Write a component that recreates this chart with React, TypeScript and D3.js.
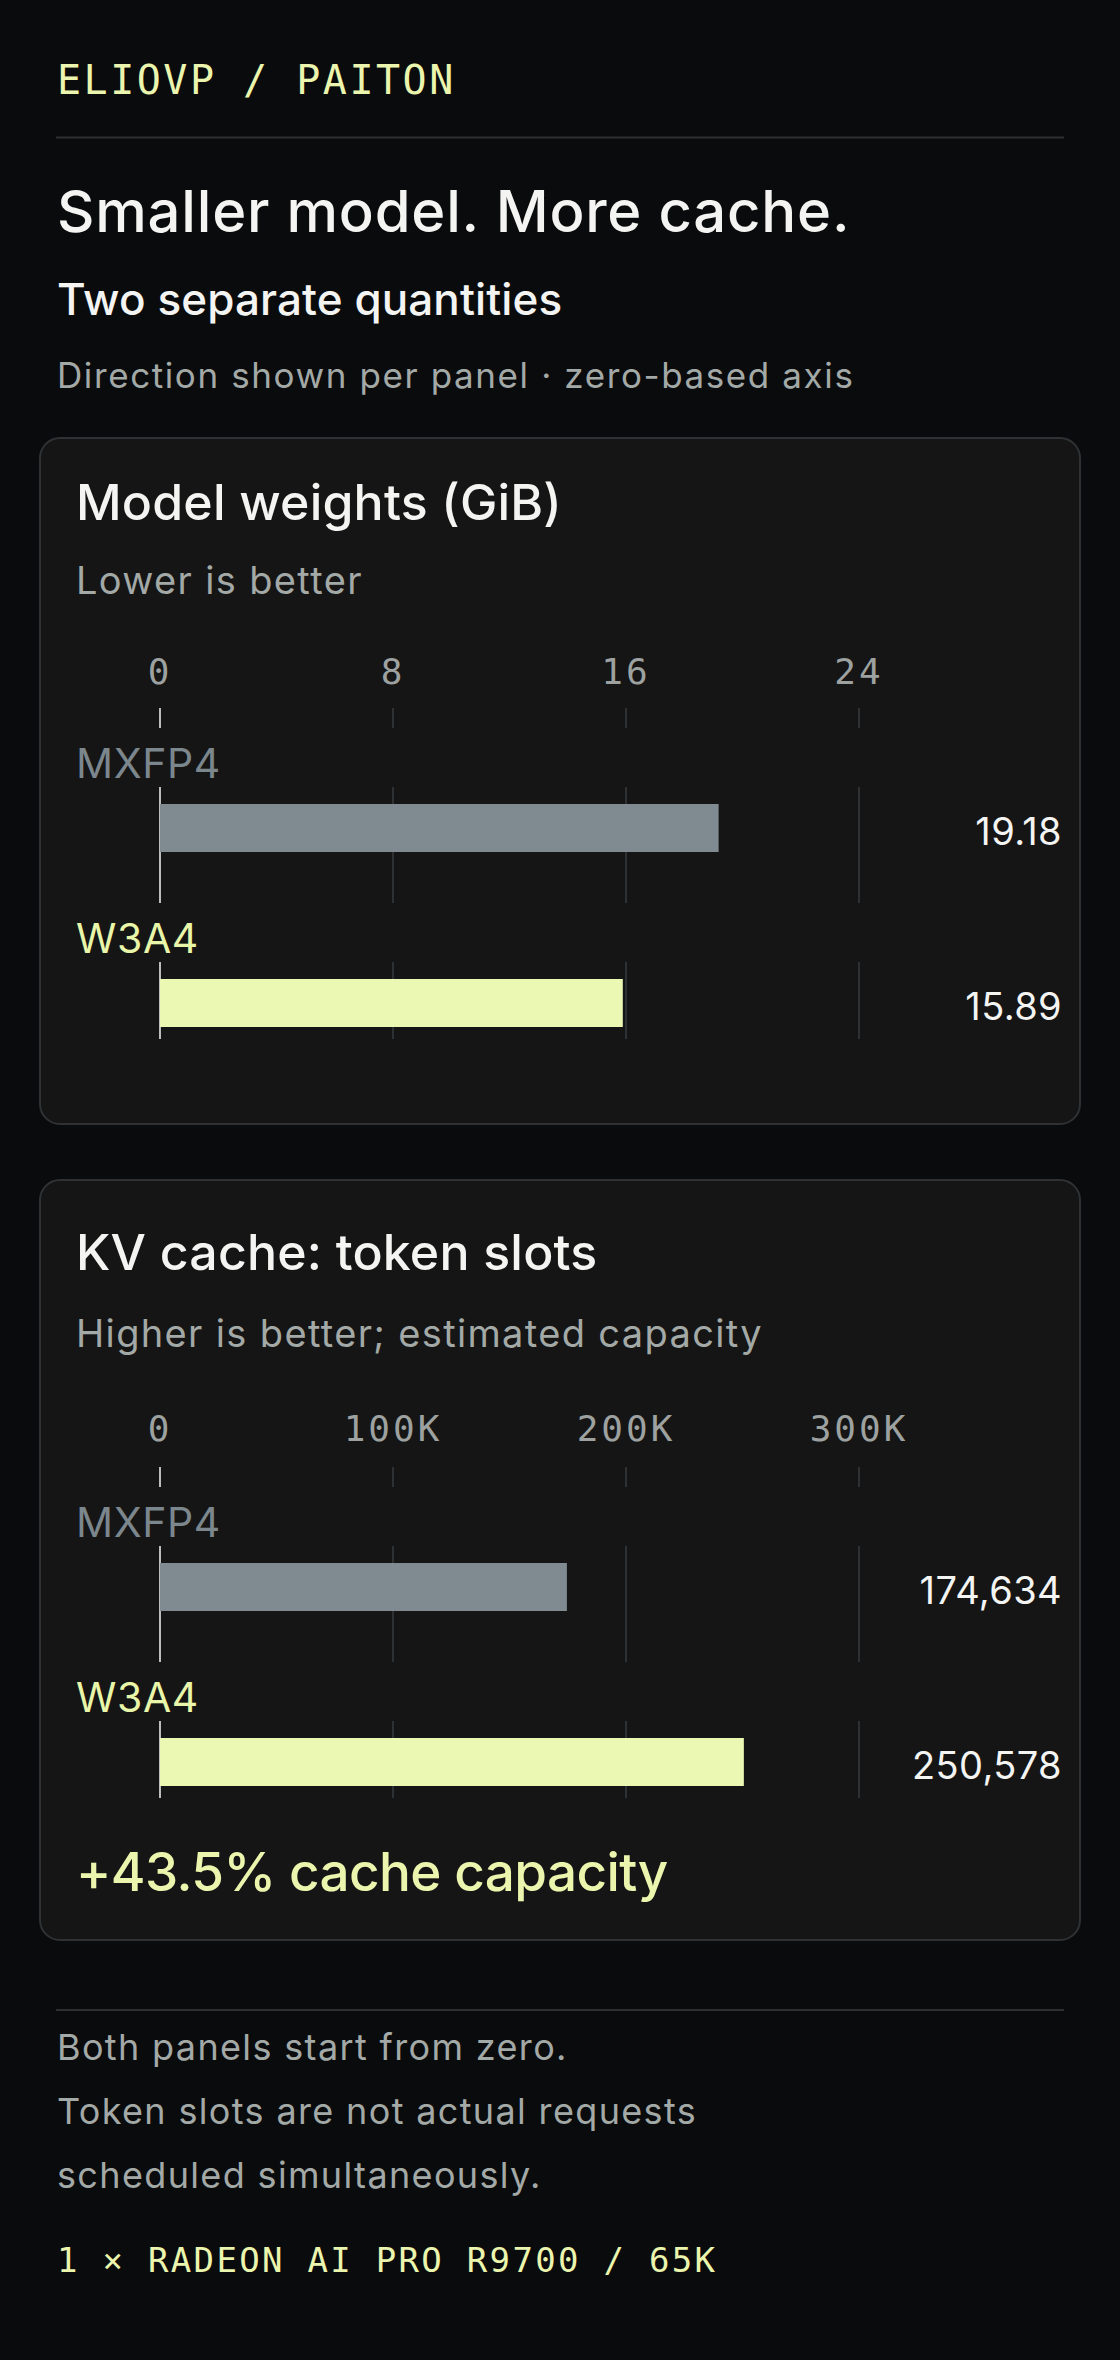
import { useEffect } from 'react';
import { scaleLinear, scaleBand, format } from 'd3';

// data
const categories = ['MXFP4', 'W3A4'];
const weightValues = [19.18, 15.89];
const weightTicks = [0, 8, 16, 24];
const kvValues = [174634, 250578];
const kvTicks = [0, 100000, 200000, 300000];
const footerNotes = [
    'Both panels start from zero.',
    'Token slots are not actual requests',
    'scheduled simultaneously.',
];

const W = 1120;
const H = 2360;
const SANS = 'Inter, "Noto Sans", sans-serif';
const MONO = '"DejaVu Sans Mono", "Liberation Mono", monospace';

const C = {
    bg: '#0a0b0d',
    panel: '#151515',
    border: '#2e3234',
    rule: '#2c3031',
    text: '#f4f4f2',
    muted: '#a3a9a6',
    tick: '#9da2a1',
    accent: '#ebf5ad',
    grid: '#2d3133',
    zero: '#b9bebc',
};
const barColor = ['#7f8b90', '#ebf8b3'];
const labelColor = ['#7c878d', '#e9f5a8'];

const ROW_STEP = 175;

type PanelProps = {
    top: number;
    height: number;
    title: string;
    subtitle: string;
    values: number[];
    ticks: number[];
    tickFormat: (v: number) => string;
    valueFormat: (v: number) => string;
    titleY: number; // offsets from the panel top
    subY: number;
    tickY: number;
    rowY: number;
    note?: string;
    noteY?: number;
};

function Panel(p: PanelProps) {
    const x = scaleLinear()
        .domain([0, p.ticks[p.ticks.length - 1]])
        .range([160, 859]);
    const rowsTop = p.top + p.rowY;
    const y = scaleBand()
        .domain(categories)
        .range([rowsTop, rowsTop + ROW_STEP * categories.length]);

    return (
        <g>
            <rect x={40} y={p.top} width={1040} height={p.height} rx={20} fill={C.panel} stroke={C.border} strokeWidth={2} />
            <text x={76} y={p.top + p.titleY} fill={C.text} fontFamily={SANS} fontWeight={500} fontSize={50} letterSpacing={0.2}>
                {p.title}
            </text>
            <text x={76} y={p.top + p.subY} fill={C.muted} fontFamily={SANS} fontSize={38} letterSpacing={1.35}>
                {p.subtitle}
            </text>

            {/* axis labels + small ticks */}
            {p.ticks.map((t, i) => (
                <g key={'t' + i}>
                    <text
                        x={x(t)}
                        y={p.top + p.tickY}
                        textAnchor="middle"
                        fill={C.tick}
                        fontFamily={MONO}
                        fontSize={36}
                        letterSpacing={3}
                    >
                        {p.tickFormat(t)}
                    </text>
                    <line
                        x1={x(t)}
                        x2={x(t)}
                        y1={rowsTop - 41}
                        y2={rowsTop - 21}
                        stroke={t === 0 ? C.zero : C.grid}
                        strokeWidth={2}
                    />
                </g>
            ))}

            {categories.map((cat, i) => {
                const y0 = y(cat) || 0;
                const last = i === categories.length - 1;
                return (
                    <g key={cat}>
                        <text x={76} y={y0 + 29} fill={labelColor[i]} fontFamily={SANS} fontSize={41} letterSpacing={0.6}>
                            {cat}
                        </text>
                        {p.ticks.map((t, j) => (
                            <line
                                key={j}
                                x1={x(t)}
                                x2={x(t)}
                                y1={y0 + 38}
                                y2={y0 + (last ? 115 : 154)}
                                stroke={t === 0 ? C.zero : C.grid}
                                strokeWidth={2}
                            />
                        ))}
                        <rect x={x(0)} y={y0 + 55} width={x(p.values[i]) - x(0)} height={48} fill={barColor[i]} />
                        <text x={1062} y={y0 + 96} textAnchor="end" fill={C.text} fontFamily={SANS} fontSize={38} letterSpacing={0.4}>
                            {p.valueFormat(p.values[i])}
                        </text>
                    </g>
                );
            })}

            {p.note && (
                <text x={76} y={p.top + (p.noteY || 0)} fill={C.accent} fontFamily={SANS} fontWeight={500} fontSize={53} letterSpacing={-0.6}>
                    {p.note}
                </text>
            )}
        </g>
    );
}

export default function App() {
    useEffect(() => {
        document.body.style.margin = '0';
        document.body.style.background = C.bg;
    }, []);

    const gain = kvValues[1] / kvValues[0] - 1;
    const kTick = (v: number) => (v === 0 ? '0' : format('d')(v / 1000) + 'K');

    return (
        <svg width={W} height={H} viewBox={`0 0 ${W} ${H}`} style={{ display: 'block', background: C.bg }}>
            <rect width={W} height={H} fill={C.bg} />

            <text x={57} y={94} fill={C.accent} fontFamily={MONO} fontSize={40} letterSpacing={2.5}>
                ELIOVP / PAITON
            </text>
            <line x1={56} x2={1064} y1={137.5} y2={137.5} stroke={C.rule} strokeWidth={2} />

            <text x={57} y={232} fill={C.text} fontFamily={SANS} fontWeight={500} fontSize={58} letterSpacing={0.8}>
                Smaller model. More cache.
            </text>
            <text x={57} y={315} fill={C.text} fontFamily={SANS} fontWeight={500} fontSize={44} letterSpacing={0.1}>
                Two separate quantities
            </text>
            <text x={57} y={388} fill={C.muted} fontFamily={SANS} fontSize={35} letterSpacing={1.6}>
                Direction shown per panel · zero-based axis
            </text>

            <Panel
                top={438}
                height={686}
                title="Model weights (GiB)"
                subtitle="Lower is better"
                values={weightValues}
                ticks={weightTicks}
                tickFormat={(v) => String(v)}
                valueFormat={format('.2f')}
                titleY={82}
                subY={156}
                tickY={246}
                rowY={311}
            />
            <Panel
                top={1180}
                height={760}
                title="KV cache: token slots"
                subtitle="Higher is better; estimated capacity"
                values={kvValues}
                ticks={kvTicks}
                tickFormat={kTick}
                valueFormat={format(',')}
                titleY={90}
                subY={167}
                tickY={261}
                rowY={328}
                note={`${format('+.1%')(gain)} cache capacity`}
                noteY={711}
            />

            <line x1={56} x2={1064} y1={2010} y2={2010} stroke={C.rule} strokeWidth={2} />
            {footerNotes.map((t, i) => (
                <text key={i} x={57} y={2060 + i * 64} fill={C.muted} fontFamily={SANS} fontSize={36} letterSpacing={1.35}>
                    {t}
                </text>
            ))}
            <text x={57} y={2272} fill={C.accent} fontFamily={MONO} fontSize={34} letterSpacing={2.3}>
                1 × RADEON AI PRO R9700 / 65K
            </text>
        </svg>
    );
}
